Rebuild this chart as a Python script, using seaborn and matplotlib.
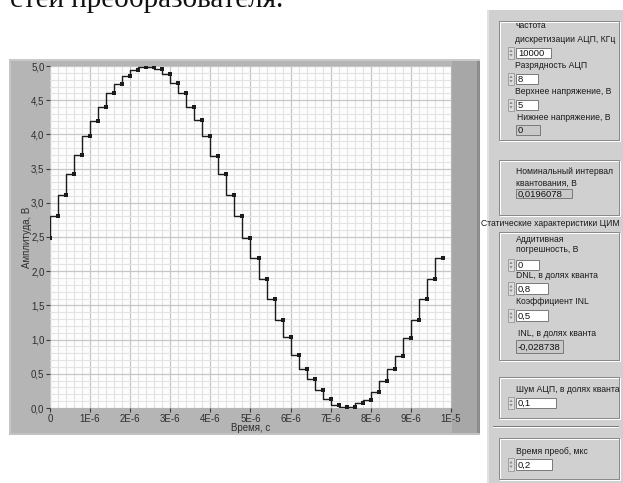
import numpy as np
import pandas as pd
import matplotlib
matplotlib.use("Agg")
import matplotlib.pyplot as plt
from matplotlib.patches import Rectangle, Polygon
from matplotlib.ticker import MultipleLocator, FixedLocator
import seaborn as sns

# ADC output samples: conversion time 0.2 us, 8-bit quantised sine 0..5 V
time_us = [0.0, 0.2, 0.4, 0.6, 0.8, 1.0, 1.2, 1.4, 1.6, 1.8,
           2.0, 2.2, 2.4, 2.6, 2.8, 3.0, 3.2, 3.4, 3.6, 3.8,
           4.0, 4.2, 4.4, 4.6, 4.8, 5.0, 5.2, 5.4, 5.6, 5.8,
           6.0, 6.2, 6.4, 6.6, 6.8, 7.0, 7.2, 7.4, 7.6, 7.8,
           8.0, 8.2, 8.4, 8.6, 8.8, 9.0, 9.2, 9.4, 9.6, 9.8]
amplitude_v = [2.49, 2.81, 3.12, 3.42, 3.70, 3.97, 4.20, 4.40, 4.61, 4.74,
               4.85, 4.94, 4.99, 4.99, 4.95, 4.88, 4.75, 4.61, 4.40, 4.21,
               3.97, 3.69, 3.42, 3.12, 2.81, 2.49, 2.20, 1.88, 1.60, 1.29,
               1.04, 0.77, 0.57, 0.42, 0.26, 0.13, 0.05, 0.02, 0.02, 0.07,
               0.12, 0.24, 0.39, 0.575, 0.765, 1.03, 1.29, 1.60, 1.88, 2.20]

y_ticks = [0.0, 0.5, 1.0, 1.5, 2.0, 2.5, 3.0, 3.5, 4.0, 4.5, 5.0]
y_tick_labels = ["0,0", "0,5", "1,0", "1,5", "2,0", "2,5", "3,0", "3,5", "4,0", "4,5", "5,0"]
x_ticks_us = [0, 1, 2, 3, 4, 5, 6, 7, 8, 9, 10]
x_tick_labels = ["0", "1E-6", "2E-6", "3E-6", "4E-6", "5E-6", "6E-6", "7E-6", "8E-6", "9E-6", "1E-5"]

W, H = 623, 483
sns.set_theme(style="white")
plt.rcParams["font.family"] = ["Liberation Sans", "DejaVu Sans"]

fig = plt.figure(figsize=(W / 100, H / 100), dpi=100)
fig.patch.set_facecolor("white")

# pixel-space canvas for the panel decorations
bg = fig.add_axes([0, 0, 1, 1], zorder=0)
bg.set_xlim(0, W)
bg.set_ylim(H, 0)
bg.axis("off")

# heading fragment from the surrounding page
bg.text(10, 7.3, "стей преобразователя.", family=["Liberation Serif", "DejaVu Serif"],
        fontsize=21, color="#111111", ha="left", va="baseline")

# graph frame
bg.add_patch(Rectangle((9, 59), 471, 376, fc="#b5b5b5", ec="none"))
bg.add_patch(Rectangle((9, 59), 471, 2, fc="#c9c9c9", ec="none"))
bg.add_patch(Rectangle((9, 59), 2, 376, fc="#c6c6c6", ec="none"))
bg.add_patch(Rectangle((452, 61), 26, 374, fc="#a7a7a7", ec="none"))
bg.add_patch(Rectangle((477, 61), 3, 374, fc="#8c8c8c", ec="none"))
bg.add_patch(Rectangle((9, 433), 471, 2, fc="#c2c2c2", ec="none"))

# control panel
bg.add_patch(Rectangle((487, 10), 136, 473, fc="#d0d0d0", ec="none"))
bg.add_patch(Rectangle((487, 10), 2, 473, fc="#e2e2e2", ec="none"))

PX = 0.72
FS = 6.2


def group_box(x0, y0, x1, y1):
    bg.add_patch(Rectangle((x0 + 1, y0 + 1), x1 - x0, y1 - y0, fc="none", ec="white", lw=PX))
    bg.add_patch(Rectangle((x0, y0), x1 - x0, y1 - y0, fc="none", ec="#8a8a8a", lw=PX))


def label(x, y, s):
    bg.text(x, y, s, fontsize=FS, color="#1a1a1a", ha="left", va="center")


def field(x0, y0, x1, y1, s, editable=True):
    fc = "white" if editable else "#c9c9c9"
    bg.add_patch(Rectangle((x0, y0), x1 - x0, y1 - y0, fc=fc, ec="#7c7c7c", lw=PX))
    bg.text(x0 + 2, (y0 + y1) / 2 + 0.5, s, fontsize=6.8, color="#111111", ha="left", va="center")
    if editable:
        cx = x0 - 5
        yc = (y0 + y1) / 2
        bg.add_patch(Rectangle((cx - 3, y0 - 1), 6, y1 - y0 + 2, fc="#dcdcdc", ec="#a0a0a0", lw=PX))
        bg.add_patch(Polygon([[cx - 1.6, yc - 1], [cx + 1.6, yc - 1], [cx, yc - 3.6]],
                             closed=True, fc="#8a8a8a", ec="none"))
        bg.add_patch(Polygon([[cx - 1.6, yc + 1], [cx + 1.6, yc + 1], [cx, yc + 3.6]],
                             closed=True, fc="#8a8a8a", ec="none"))


group_box(499, 21, 619, 140)
label(515, 25, "частота")
label(515, 40, "дискретизации АЦП, КГц")
field(516, 48, 551, 58, "10000")
label(515, 66, "Разрядность АЦП")
field(516, 74, 538, 84, "8")
label(515, 92, "Верхнее напряжение, В")
field(516, 100, 538, 110, "5")
label(517, 117, "Нижнее напряжение, В")
field(516, 125, 540, 135, "0", editable=False)

group_box(499, 160, 619, 215)
label(516, 172, "Номинальный интервал")
label(516, 183, "квантования, В")
field(516, 189, 572, 198, "0,0196078", editable=False)

bg.text(481, 224, "Статические характеристики ЦИМ", fontsize=FS, color="#1a1a1a",
        ha="left", va="center")

group_box(499, 232, 619, 360)
label(516, 240, "Аддитивная")
label(516, 250, "погрешность, В")
field(516, 260, 539, 270, "0")
label(516, 276, "DNL, в долях кванта")
field(516, 283, 548, 294, "0,8")
label(516, 302, "Коэффициент INL")
field(516, 310, 548, 321, "0,5")
label(518, 333, "INL, в долях кванта")
field(516, 340, 563, 353, "-0,028738", editable=False)

group_box(499, 377, 619, 418)
label(516, 390, "Шум АЦП, в долях кванта")
field(516, 398, 556, 408, "0,1")

bg.add_patch(Rectangle((493, 426), 126, 1.2, fc="#7a7a7a", ec="none"))
bg.add_patch(Rectangle((493, 427.2), 126, 1.2, fc="white", ec="none"))

group_box(499, 438, 619, 479)
label(516, 452, "Время преоб, мкс")
field(516, 459, 552, 470, "0,2")

# waveform graph
ax = fig.add_axes([50 / W, (H - 408) / H, 401 / W, 342 / H], zorder=2)
ax.set_facecolor("#fdfdfd")

df = pd.DataFrame({"t": np.array(time_us) * 1e-6, "v": amplitude_v})
sns.lineplot(data=df, x="t", y="v", ax=ax, drawstyle="steps-pre", color="#1c1c1c",
             lw=1.0, marker="s", markersize=2.6, markeredgewidth=0,
             markeredgecolor="#1c1c1c", estimator=None, sort=False)

ax.set_xlim(0, 1e-5)
ax.set_ylim(0, 5)
ax.yaxis.set_major_locator(FixedLocator(y_ticks))
ax.set_yticklabels(y_tick_labels)
ax.xaxis.set_major_locator(FixedLocator([v * 1e-6 for v in x_ticks_us]))
ax.set_xticklabels(x_tick_labels)
ax.xaxis.set_minor_locator(MultipleLocator(0.2e-6))
ax.yaxis.set_minor_locator(MultipleLocator(0.1))
ax.set_axisbelow(True)
ax.grid(which="minor", color="#e3e3e3", lw=0.8)
ax.grid(which="major", color="#c6c6c6", lw=0.9)
ax.tick_params(which="minor", length=0)
ax.tick_params(which="major", direction="out", length=3, width=0.8, color="#3a3a3a",
               labelsize=7, labelcolor="#2e2e2e", pad=1)
ax.tick_params(axis="x", bottom=True, left=False)
ax.tick_params(axis="y", left=True)
for sp in ax.spines.values():
    sp.set_visible(False)

ax.set_xlabel("Время, с", fontsize=7, color="#2e2e2e")
ax.set_ylabel("Амплитуда, В", fontsize=7, color="#2e2e2e")
ax.xaxis.set_label_coords(0.5, -0.045)
ax.yaxis.set_label_coords(-0.045, 0.5)

fig.savefig("out.png", dpi=100)
